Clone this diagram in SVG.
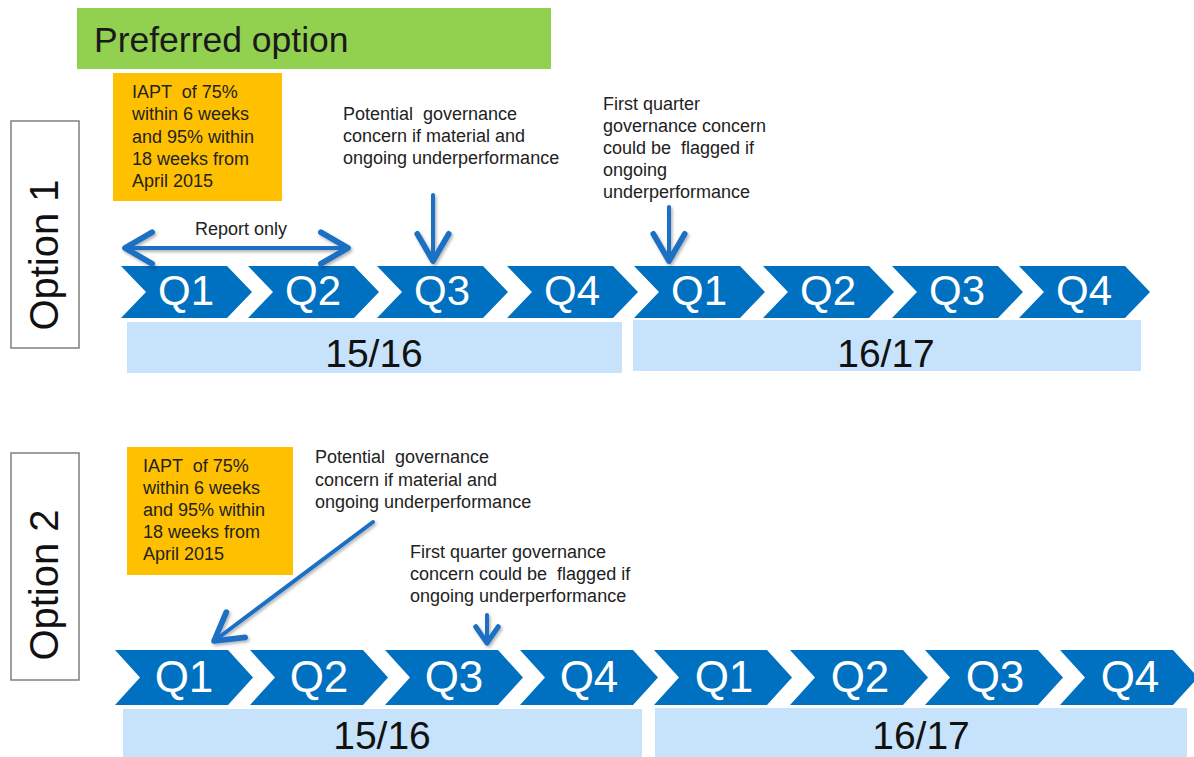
<svg xmlns="http://www.w3.org/2000/svg" width="1194" height="757" viewBox="0 0 1194 757">
<style>
  text { font-family: "Liberation Sans", Arial, sans-serif; }
  .note { font-size: 18px; fill: #222222; }
  .q1 { font-size: 42px; fill: #ffffff; text-anchor: middle; }
  .q2 { font-size: 44px; fill: #ffffff; text-anchor: middle; }
  .yr { font-size: 39px; fill: #111111; text-anchor: middle; }
  .opt { font-size: 40px; fill: #111111; text-anchor: middle; }
  .chev { fill: #0070C0; }
  .bar { fill: #C6E3FB; }
  .orange { fill: #FFC000; }
  .optbox { fill: #ffffff; stroke: #7F7F7F; stroke-width: 1.5; }
  .conn { stroke: #1A6FC4; stroke-width: 4; fill: none; stroke-linecap: round; }
</style>
<defs>
  <path id="chev1" d="M0,0 H106 L131,26 L106,52 H0 L25,26 Z"/>
  <path id="chev2" d="M0,0 H113 L138,27.5 L113,55 H0 L25,27.5 Z"/>
  <marker id="head" markerUnits="userSpaceOnUse" markerWidth="40" markerHeight="40" refX="0" refY="0" viewBox="-22 -14 26 28" orient="auto-start-reverse" overflow="visible">
    <path d="M-19,-11 L0,0 L-19,11" fill="none" stroke="#1A6FC4" stroke-width="4" stroke-linecap="round" stroke-linejoin="round"/>
  </marker>
  <marker id="headS" markerUnits="userSpaceOnUse" markerWidth="30" markerHeight="30" refX="0" refY="0" viewBox="-16 -12 20 24" orient="auto" overflow="visible">
    <path d="M-13,-9 L0,0 L-13,9" fill="none" stroke="#1A6FC4" stroke-width="4" stroke-linecap="round" stroke-linejoin="round"/>
  </marker>
  <filter id="shadow" x="-20%" y="-20%" width="140%" height="140%">
    <feDropShadow dx="1.5" dy="2" stdDeviation="1.5" flood-color="#000000" flood-opacity="0.3"/>
  </filter>
</defs>

<g id="preferred">
  <rect x="77" y="8" width="474" height="61" fill="#92D050"/>
  <text x="94" y="52" style="font-size:35.5px" fill="#1a1a1a">Preferred option</text>
</g>

<!-- Option 1 -->
<g id="option1-label">
  <rect class="optbox" x="11" y="121" width="68" height="227"/>
  <text class="opt" transform="translate(58,255) rotate(-90)">Option 1</text>
</g>
<g id="o1-target">
  <rect class="orange" x="113" y="73" width="169" height="128"/>
  <text class="note" xml:space="preserve"><tspan x="132" y="98">IAPT  of 75%</tspan><tspan x="132" y="120">within 6 weeks</tspan><tspan x="132" y="143">and 95% within</tspan><tspan x="132" y="165">18 weeks from</tspan><tspan x="132" y="187">April 2015</tspan></text>
</g>
<g id="o1-note-q3">
  <text class="note" xml:space="preserve"><tspan x="343" y="120">Potential  governance</tspan><tspan x="343" y="142">concern if material and</tspan><tspan x="343" y="164">ongoing underperformance</tspan></text>
</g>
<g id="o1-note-q1">
  <text class="note" xml:space="preserve"><tspan x="603" y="110">First quarter</tspan><tspan x="603" y="132">governance concern</tspan><tspan x="603" y="154">could be  flagged if</tspan><tspan x="603" y="176">ongoing</tspan><tspan x="603" y="198">underperformance</tspan></text>
</g>
<g id="o1-report">
  <text class="note" x="195" y="235">Report only</text>
</g>
<g id="o1-q1a"><use href="#chev1" class="chev" x="121" y="266"/><text class="q1" x="186" y="305">Q1</text></g>
<g id="o1-q2a"><use href="#chev1" class="chev" x="248" y="266"/><text class="q1" x="313" y="305">Q2</text></g>
<g id="o1-q3a"><use href="#chev1" class="chev" x="377" y="266"/><text class="q1" x="442" y="305">Q3</text></g>
<g id="o1-q4a"><use href="#chev1" class="chev" x="507" y="266"/><text class="q1" x="572" y="305">Q4</text></g>
<g id="o1-q1b"><use href="#chev1" class="chev" x="634" y="266"/><text class="q1" x="699" y="305">Q1</text></g>
<g id="o1-q2b"><use href="#chev1" class="chev" x="763" y="266"/><text class="q1" x="828" y="305">Q2</text></g>
<g id="o1-q3b"><use href="#chev1" class="chev" x="892" y="266"/><text class="q1" x="957" y="305">Q3</text></g>
<g id="o1-q4b"><use href="#chev1" class="chev" x="1019" y="266"/><text class="q1" x="1084" y="305">Q4</text></g>
<g id="o1-year1516"><rect class="bar" x="127" y="322" width="495" height="51"/><text class="yr" x="374" y="367">15/16</text></g>
<g id="o1-year1617"><rect class="bar" x="633" y="320" width="508" height="51"/><text class="yr" x="886" y="367">16/17</text></g>

<!-- Option 2 -->
<g id="option2-label">
  <rect class="optbox" x="11" y="453" width="68" height="227"/>
  <text class="opt" transform="translate(58,585) rotate(-90)">Option 2</text>
</g>
<g id="o2-target">
  <rect class="orange" x="127" y="447" width="166" height="128"/>
  <text class="note" xml:space="preserve"><tspan x="143" y="472">IAPT  of 75%</tspan><tspan x="143" y="494">within 6 weeks</tspan><tspan x="143" y="516">and 95% within</tspan><tspan x="143" y="538">18 weeks from</tspan><tspan x="143" y="560">April 2015</tspan></text>
</g>
<g id="o2-note-q1">
  <text class="note" xml:space="preserve"><tspan x="315" y="463">Potential  governance</tspan><tspan x="315" y="486">concern if material and</tspan><tspan x="315" y="508">ongoing underperformance</tspan></text>
</g>
<g id="o2-note-q3">
  <text class="note" xml:space="preserve"><tspan x="410" y="558">First quarter governance</tspan><tspan x="410" y="580">concern could be  flagged if</tspan><tspan x="410" y="602">ongoing underperformance</tspan></text>
</g>
<g id="o2-q1a"><use href="#chev2" class="chev" x="115" y="650"/><text class="q2" x="184" y="692">Q1</text></g>
<g id="o2-q2a"><use href="#chev2" class="chev" x="250" y="650"/><text class="q2" x="319" y="692">Q2</text></g>
<g id="o2-q3a"><use href="#chev2" class="chev" x="385" y="650"/><text class="q2" x="454" y="692">Q3</text></g>
<g id="o2-q4a"><use href="#chev2" class="chev" x="520" y="650"/><text class="q2" x="589" y="692">Q4</text></g>
<g id="o2-q1b"><use href="#chev2" class="chev" x="654" y="650"/><text class="q2" x="724" y="692">Q1</text></g>
<g id="o2-q2b"><use href="#chev2" class="chev" x="790" y="650"/><text class="q2" x="860" y="692">Q2</text></g>
<g id="o2-q3b"><use href="#chev2" class="chev" x="925" y="650"/><text class="q2" x="995" y="692">Q3</text></g>
<g id="o2-q4b"><use href="#chev2" class="chev" x="1060" y="650"/><text class="q2" x="1130" y="692">Q4</text></g>
<g id="o2-year1516"><rect class="bar" x="123" y="709" width="519" height="50"/><text class="yr" x="382" y="749">15/16</text></g>
<g id="o2-year1617"><rect class="bar" x="655" y="708" width="532" height="51"/><text class="yr" x="921" y="749">16/17</text></g>

<!-- Connectors -->
<g id="connectors" filter="url(#shadow)">
  <line class="conn" x1="125" y1="248" x2="348" y2="248" marker-start="url(#head)" marker-end="url(#head)"/>
  <line class="conn" x1="433" y1="195" x2="433" y2="261" marker-end="url(#head)"/>
  <line class="conn" x1="669" y1="207" x2="669" y2="261" marker-end="url(#head)"/>
  <line class="conn" x1="373" y1="522" x2="214" y2="641" marker-end="url(#head)"/>
  <line class="conn" x1="487" y1="615" x2="487" y2="643" marker-end="url(#headS)"/>
</g>
</svg>
